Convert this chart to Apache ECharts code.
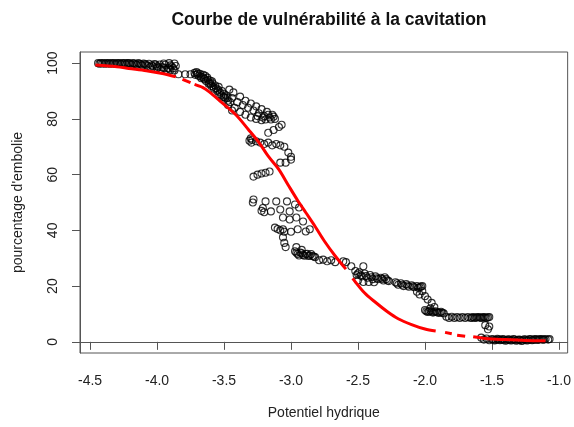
<!DOCTYPE html>
<html>
<head>
<meta charset="utf-8">
<script src="https://cdn.jsdelivr.net/npm/echarts@6/dist/echarts.min.js"></script>
<style>
  html, body { margin: 0; padding: 0; background: #fff; }
  #chart { width: 574px; height: 427px; }
</style>
</head>
<body>
<div id="chart"></div>
<script>

const xTicks = [-4.5, -4.0, -3.5, -3.0, -2.5, -2.0, -1.5, -1.0]
const yTicks = [0, 20, 40, 60, 80, 100]

// points mesurés, par paquets [potentiel, % embolie]
const plateau = [
  [-4.44, 100], [-4.42, 100], [-4.40, 100], [-4.38, 100], [-4.36, 100], [-4.34, 100],
  [-4.32, 100], [-4.30, 100], [-4.28, 100], [-4.26, 100], [-4.24, 100], [-4.22, 100],
  [-4.20, 99.8], [-4.18, 100], [-4.16, 99.7], [-4.14, 100], [-4.12, 99.6], [-4.10, 99.9],
  [-4.08, 99.4], [-4.06, 99.8], [-4.04, 99.2], [-4.02, 99.7], [-4.00, 98.9], [-3.98, 99.5],
  [-3.96, 98.6], [-3.94, 99.4], [-3.92, 98.3], [-3.90, 99.2], [-3.88, 98.2], [-3.86, 99],
  [-4.05, 98.6], [-4.00, 98.2], [-3.97, 97.8], [-3.93, 97.6], [-3.90, 97.5], [-3.87, 97.4],
  [-3.95, 99.9], [-3.91, 100], [-3.87, 99.9],
  [-4.43, 99.8], [-4.41, 99.9], [-4.39, 99.8], [-4.37, 99.9], [-4.35, 99.8], [-4.33, 99.9],
  [-4.31, 99.7], [-4.29, 99.9], [-4.27, 99.7], [-4.25, 99.9], [-4.23, 99.6], [-4.21, 100],
  [-4.19, 99.5], [-4.17, 99.9], [-4.15, 99.4], [-4.13, 99.8], [-4.11, 99.2], [-4.09, 99.7],
  [-4.07, 99], [-4.03, 98.8], [-4.01, 99.5], [-3.99, 98.5], [-3.95, 98.2], [-3.91, 98],
  [-3.89, 98.8]
]
const transition = [[-3.84, 96], [-3.79, 96], [-3.75, 96]]
const chuteHaute = [
  [-3.72, 96.5], [-3.70, 96], [-3.69, 95.5], [-3.68, 96.2], [-3.66, 95], [-3.65, 94.5],
  [-3.64, 95.5], [-3.62, 94], [-3.61, 93], [-3.60, 92.5], [-3.59, 93.5], [-3.58, 91.5],
  [-3.56, 91], [-3.55, 90], [-3.54, 91.5], [-3.53, 89.5], [-3.52, 88.5], [-3.50, 89],
  [-3.49, 87.5], [-3.47, 86.5], [-3.50, 88], [-3.46, 90.5], [-3.43, 89.5], [-3.40, 86],
  [-3.38, 88], [-3.36, 85], [-3.34, 86.5], [-3.32, 84], [-3.30, 85.5], [-3.28, 83],
  [-3.26, 84.5], [-3.24, 82], [-3.22, 83.5], [-3.20, 81], [-3.18, 82.5], [-3.16, 80.5],
  [-3.14, 81.5], [-3.12, 80], [-3.42, 84], [-3.38, 82.5], [-3.34, 81.5], [-3.30, 80.5],
  [-3.26, 80], [-3.22, 79.5], [-3.47, 85], [-3.44, 83],
  [-3.715, 95.8], [-3.705, 96.8], [-3.695, 96.4], [-3.675, 95.2], [-3.67, 94.6], [-3.655, 95.8],
  [-3.645, 94.2], [-3.635, 93.6], [-3.625, 94.8], [-3.615, 92.6], [-3.605, 93.8], [-3.595, 91.8],
  [-3.585, 92.8], [-3.575, 90.8], [-3.565, 92], [-3.545, 90.5], [-3.535, 88.8], [-3.515, 90],
  [-3.505, 87.8], [-3.485, 88.5], [-3.475, 87.6], [-3.455, 86], [-3.44, 87.5],
  [-3.25, 81], [-3.21, 80.5], [-3.17, 81.5], [-3.13, 80.8], [-3.15, 79.8], [-3.19, 79.8]
]
const chuteMilieu = [
  [-3.17, 75], [-3.13, 76], [-3.09, 77.1], [-3.07, 77.9],
  [-3.30, 73], [-3.29, 72.5], [-3.31, 72.2], [-3.295, 71.5], [-3.26, 72], [-3.23, 71.5],
  [-3.20, 71], [-3.17, 71.5], [-3.14, 70.5], [-3.11, 71], [-3.08, 70.5], [-3.05, 70],
  [-3.02, 67.9], [-3.00, 66.4], [-3.00, 65.4], [-3.04, 64.3], [-3.08, 64.3],
  [-3.28, 59.3], [-3.25, 60], [-3.22, 60.4], [-3.19, 60.7], [-3.16, 61.1],
  [-3.28, 51.1], [-3.285, 50], [-3.19, 50.4], [-3.11, 50.4], [-3.03, 50.4], [-2.97, 49.3],
  [-3.21, 48], [-3.20, 46.5], [-3.22, 47], [-3.15, 46.8], [-3.08, 47.5], [-3.01, 46.8], [-2.94, 48.2],
  [-3.06, 44.6], [-3.01, 43.9], [-2.96, 44.6], [-2.91, 43.2],
  [-3.12, 41], [-3.10, 40.5], [-3.08, 40], [-3.05, 39.5], [-3.00, 39.5],
  [-3.06, 40.4], [-2.95, 40.4], [-2.89, 39.6], [-2.86, 40.4],
  [-3.06, 37.5], [-3.05, 35.5], [-3.04, 34], [-2.96, 34], [-2.92, 33]
]
const paliers = [
  [-2.97, 32.5], [-2.95, 31.5], [-2.93, 32], [-2.91, 31.2], [-2.89, 31.5], [-2.87, 30.8],
  [-2.85, 31.5], [-2.83, 30.6], [-2.82, 30.4], [-2.79, 29.3], [-2.76, 29.5], [-2.73, 28.9],
  [-2.70, 29.3], [-2.67, 28.6], [-2.61, 28.9], [-2.59, 28.6],
  [-2.96, 32], [-2.94, 31], [-2.92, 31.8], [-2.90, 30.9], [-2.88, 31.6], [-2.86, 31], [-2.84, 30.8],
  [-2.55, 27.1], [-2.46, 27.1],
  [-2.52, 25.4], [-2.51, 24], [-2.49, 25], [-2.47, 23.5], [-2.45, 24.5], [-2.43, 23],
  [-2.41, 24], [-2.39, 22.5], [-2.37, 23.5], [-2.35, 22.5], [-2.33, 23], [-2.31, 22],
  [-2.29, 22.5], [-2.27, 21.8], [-2.50, 22], [-2.46, 21.5], [-2.42, 21.5], [-2.38, 21.4],
  [-2.50, 24.5], [-2.48, 23.8], [-2.44, 23.6], [-2.40, 23.2], [-2.36, 22.8], [-2.32, 22.6],
  [-2.28, 22], [-2.30, 23.2],
  [-2.22, 21.4], [-2.20, 20.5], [-2.18, 21], [-2.16, 20], [-2.14, 20.7], [-2.12, 19.8],
  [-2.10, 20.3], [-2.08, 19.6], [-2.06, 20], [-2.04, 19.6], [-2.02, 20],
  [-2.21, 21], [-2.17, 20.5], [-2.13, 20.2], [-2.09, 19.9], [-2.05, 19.4], [-2.03, 19.8],
  [-2.06, 18], [-2.04, 17], [-2.02, 18.2],
  [-2.00, 16.4], [-1.98, 15.2], [-1.95, 14], [-1.93, 12.5], [-1.96, 12]
]
const queue = [
  [-2.00, 11.4], [-1.98, 10.7], [-1.96, 11.2], [-1.94, 10.5], [-1.92, 11], [-1.90, 10.4],
  [-1.88, 10.8], [-1.86, 10.2], [-1.84, 9], [-1.82, 8.6], [-1.80, 9], [-1.78, 8.6],
  [-1.76, 8.9], [-1.74, 8.6], [-1.72, 8.9], [-1.70, 8.6], [-1.68, 8.9], [-1.66, 8.6],
  [-1.64, 8.9], [-1.62, 8.7], [-1.60, 8.9], [-1.58, 8.6], [-1.56, 8.9], [-1.54, 8.6],
  [-1.52, 8.9], [-1.55, 6], [-1.53, 4.5], [-1.52, 5.5],
  [-1.99, 11], [-1.97, 10.9], [-1.95, 10.8], [-1.93, 10.7], [-1.91, 10.6], [-1.89, 10.5],
  [-1.87, 10.4], [-1.65, 8.7], [-1.63, 8.6], [-1.61, 8.8], [-1.59, 8.7], [-1.57, 8.8],
  [-1.55, 8.7], [-1.53, 8.8],
  [-1.58, 1.5], [-1.56, 0.8], [-1.54, 1.2], [-1.52, 0.6], [-1.50, 1.0], [-1.48, 0.5],
  [-1.46, 1.1], [-1.44, 0.6], [-1.42, 1.0], [-1.40, 0.4], [-1.38, 0.9], [-1.36, 0.5],
  [-1.34, 1.0], [-1.32, 0.4], [-1.30, 0.8], [-1.28, 0.3], [-1.26, 0.9], [-1.24, 0.5],
  [-1.22, 1.0], [-1.20, 0.6], [-1.18, 1.0], [-1.16, 0.7], [-1.14, 1.0], [-1.12, 0.8],
  [-1.10, 1.0], [-1.08, 0.8], [-1.07, 1.0],
  [-1.49, 0.8], [-1.47, 0.7], [-1.45, 0.9], [-1.43, 0.7], [-1.41, 0.8], [-1.39, 0.6],
  [-1.37, 0.8], [-1.35, 0.6], [-1.33, 0.8], [-1.31, 0.6], [-1.29, 0.7], [-1.27, 0.5],
  [-1.25, 0.8], [-1.23, 0.6], [-1.21, 0.9], [-1.19, 0.7], [-1.17, 0.9], [-1.15, 0.8],
  [-1.13, 0.9], [-1.11, 0.8]
]

// courbe ajustée (null = trou dans le tracé)
const fitX = [-4.46, -4.30, -4.21, -4.08, -3.96, -3.86, -3.85, -3.81, -3.75, -3.74,
  -3.72, -3.66, -3.61, -3.52, -3.41, -3.32, -3.24, -3.17, -3.09, -3.02, -2.95, -2.89, -2.82,
  -2.75, -2.67, -2.59, -2.57, -2.54, -2.45, -2.37, -2.28, -2.20, -2.10, -2.00, -1.92,
  -1.89, -1.85, -1.80, -1.78, -1.76, -1.70, -1.67, -1.64, -1.55, -1.40, -1.25, -1.10]
const fitY = [99.3, 98.7, 98.1, 97.3, 96.3, 95.1, null, 94.2, 93.0, null,
  92.4, 91.3, 89.7, 86.0, 81.4, 76.3, 71.6, 66.6, 61.8, 56.2, 50.7, 46.4, 41.4,
  36.1, 30.8, 26.1, null, 22.8, 17.5, 14.2, 10.8, 8.3, 6.2, 4.6, 3.9,
  null, 3.4, 2.9, null, 2.4, 2.0, null, 1.8, 1.2, 0.8, 0.5, 0.4]

const points = [].concat(plateau, transition, chuteHaute, chuteMilieu, paliers, queue)
const fit = fitX.map((x, i) => fitY[i] == null ? [x, '-'] : [x, fitY[i]])

const chart = echarts.init(document.getElementById('chart'))
const font = 'Liberation Sans, Arial, sans-serif'
const axisColor = '#555'
const textColor = '#222'

chart.setOption({
  animation: false,
  textStyle: { fontFamily: font },
  title: {
    text: 'Courbe de vulnérabilité à la cavitation',
    left: 324, top: 6, textAlign: 'center',
    textStyle: { fontSize: 17.5, fontWeight: 'bold', color: '#111', fontFamily: font }
  },
  grid: { left: 80, right: 4, top: 52, bottom: 74, show: true, borderColor: axisColor, borderWidth: 1 },
  xAxis: {
    type: 'value', min: -4.575, max: -0.935,
    name: 'Potentiel hydrique', nameLocation: 'middle', nameGap: 53,
    nameTextStyle: { fontSize: 14, color: textColor },
    axisLine: { show: true, lineStyle: { color: axisColor } },
    axisTick: { show: true, length: 8, customValues: xTicks, lineStyle: { color: axisColor } },
    axisLabel: { customValues: xTicks, margin: 21, fontSize: 14, color: textColor, formatter: v => v.toFixed(1) },
    splitLine: { show: false }
  },
  yAxis: {
    type: 'value', min: -4, max: 104,
    name: "pourcentage d'embolie", nameLocation: 'middle', nameGap: 55,
    nameTextStyle: { fontSize: 14, color: textColor },
    axisLine: { show: true, lineStyle: { color: axisColor } },
    axisTick: { show: true, length: 8, customValues: yTicks, lineStyle: { color: axisColor } },
    axisLabel: { customValues: yTicks, rotate: 90, margin: 20, fontSize: 14, color: textColor },
    splitLine: { show: false }
  },
  series: [
    {
      type: 'scatter', data: points, symbol: 'circle', symbolSize: 7,
      itemStyle: { color: 'rgba(0,0,0,0)', borderColor: '#000', borderWidth: 1.1 },
      silent: true
    },
    {
      type: 'line', data: fit, showSymbol: false, smooth: 0.3, connectNulls: false,
      lineStyle: { color: '#ff0000', width: 3 }, silent: true
    }
  ]
})
</script>
</body>
</html>
